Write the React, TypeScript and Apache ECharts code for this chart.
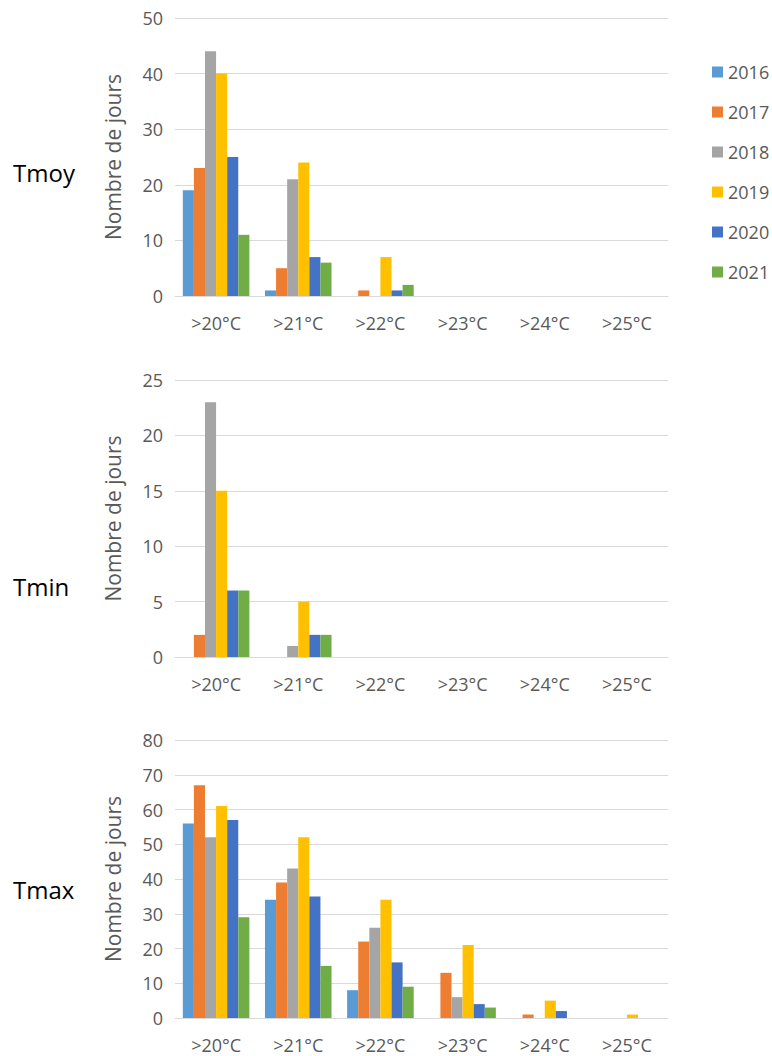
import React, { useEffect, useRef } from "react";
import * as echarts from "echarts";

const categories = [">20°C", ">21°C", ">22°C", ">23°C", ">24°C", ">25°C"];
const years = ["2016", "2017", "2018", "2019", "2020", "2021"];
const colors = ["#5B9BD5", "#ED7D31", "#A5A5A5", "#FFC000", "#4472C4", "#70AD47"];

const tmoy2016 = [19, 1, 0, 0, 0, 0];
const tmoy2017 = [23, 5, 1, 0, 0, 0];
const tmoy2018 = [44, 21, 0, 0, 0, 0];
const tmoy2019 = [40, 24, 7, 0, 0, 0];
const tmoy2020 = [25, 7, 1, 0, 0, 0];
const tmoy2021 = [11, 6, 2, 0, 0, 0];

const tmin2016 = [0, 0, 0, 0, 0, 0];
const tmin2017 = [2, 0, 0, 0, 0, 0];
const tmin2018 = [23, 1, 0, 0, 0, 0];
const tmin2019 = [15, 5, 0, 0, 0, 0];
const tmin2020 = [6, 2, 0, 0, 0, 0];
const tmin2021 = [6, 2, 0, 0, 0, 0];

const tmax2016 = [56, 34, 8, 0, 0, 0];
const tmax2017 = [67, 39, 22, 13, 1, 0];
const tmax2018 = [52, 43, 26, 6, 0, 0];
const tmax2019 = [61, 52, 34, 21, 5, 1];
const tmax2020 = [57, 35, 16, 4, 2, 0];
const tmax2021 = [29, 15, 9, 3, 0, 0];

const panelNames = ["Tmoy", "Tmin", "Tmax"];
const panelMax = [50, 25, 80];
const panelInterval = [10, 5, 10];
const panelData = [
  [tmoy2016, tmoy2017, tmoy2018, tmoy2019, tmoy2020, tmoy2021],
  [tmin2016, tmin2017, tmin2018, tmin2019, tmin2020, tmin2021],
  [tmax2016, tmax2017, tmax2018, tmax2019, tmax2020, tmax2021],
];

const FONT = "'Open Sans', 'Liberation Sans', sans-serif";
const TXT = "#595959";
const GRIDC = "#d9d9d9";

export default function App() {
  const ref = useRef<HTMLDivElement>(null);
  useEffect(() => {
    if (!ref.current) return;
    const chart = echarts.init(ref.current, undefined, { renderer: "svg" });
    const grids = [
      { left: 175, width: 493, top: 18, height: 278 },
      { left: 175, width: 493, top: 380, height: 277 },
      { left: 175, width: 493, top: 740, height: 278 },
    ];
    const labelY = [176, 590, 893];
    const series: any[] = [];
    panelData.forEach((pd, p) => {
      pd.forEach((vals, i) => {
        series.push({
          type: "bar",
          name: years[i],
          xAxisIndex: p,
          yAxisIndex: p,
          data: vals,
          barGap: "0%",
          barCategoryGap: "19%",
          itemStyle: { color: colors[i] },
        });
      });
    });
    chart.setOption({
      animation: false,
      textStyle: { fontFamily: FONT },
      color: colors,
      grid: grids,
      legend: {
        orient: "vertical",
        left: 707,
        top: 58,
        data: years,
        itemWidth: 11,
        itemHeight: 11,
        itemGap: 22,
        icon: "rect",
        textStyle: { color: TXT, fontSize: 18, fontFamily: FONT },
      },
      xAxis: grids.map((_, p) => ({
        type: "category",
        gridIndex: p,
        data: categories,
        axisLine: { show: true, lineStyle: { color: GRIDC, width: 1 } },
        axisTick: { show: false },
        axisLabel: { color: TXT, fontSize: 18, margin: 18, fontFamily: FONT },
      })),
      yAxis: grids.map((_, p) => ({
        type: "value",
        gridIndex: p,
        min: 0,
        max: panelMax[p],
        interval: panelInterval[p],
        name: "Nombre de jours",
        nameLocation: "middle",
        nameGap: 52,
        nameTextStyle: { color: TXT, fontSize: 21, fontFamily: FONT },
        axisLine: { show: false },
        axisTick: { show: false },
        axisLabel: { color: TXT, fontSize: 18, margin: 12, fontFamily: FONT },
        splitLine: { lineStyle: { color: GRIDC, width: 1 } },
      })),
      graphic: panelNames.map((n, p) => ({
        type: "text",
        left: 13,
        top: labelY[p] - 16,
        style: { text: n, fill: "#000", fontSize: 24, fontFamily: FONT },
      })),
      series,
    });
    return () => chart.dispose();
  }, []);
  return (
    <div
      ref={ref}
      style={{ position: "absolute", left: 0, top: 0, width: 772, height: 1056, background: "#fff" }}
    />
  );
}
